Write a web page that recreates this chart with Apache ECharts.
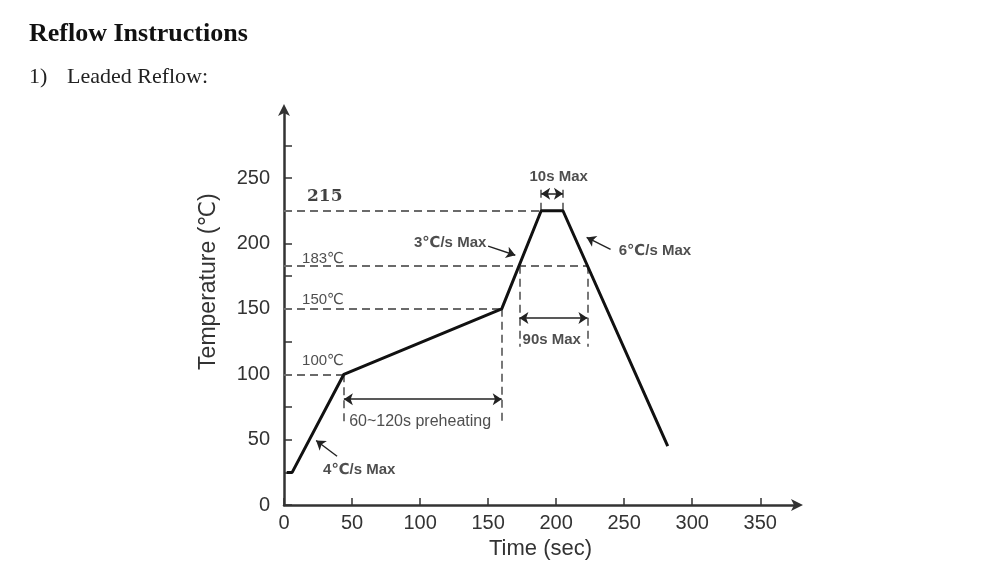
<!DOCTYPE html>
<html>
<head>
<meta charset="utf-8">
<script src="https://cdn.jsdelivr.net/npm/echarts@6/dist/echarts.min.js"></script>
<style>
  html, body { margin: 0; padding: 0; background: #fff; }
  #chart { width: 1000px; height: 565px; }
</style>
</head>
<body>
<div id="chart"></div>
<script>
// reflow profile (time in s, temperature in C)
const timeSec = [2, 6, 44, 160, 189, 205, 282];
const tempC = [25, 25, 100, 150, 225, 225, 45];

// axis ticks
const xTicks = [0, 50, 100, 150, 200, 250, 300, 350];
const yTicks = [0, 25, 50, 75, 100, 125, 150, 175, 200, 225, 250, 275];
const yLabels = [0, 50, 100, 150, 200, 250];

// horizontal dashed guides: level and where they stop
const hGuideLevel = [225, 183, 150, 100];
const hGuideEnd = [189, 223, 160, 44];

// vertical dashed guides
const vGuideX = [44, 160, 173, 223, 189, 205];
const vGuideFrom = [100, 150, 183, 183, 225, 225];
const vGuideTo = [61, 61, 121, 121, 243, 243];

// double arrows for durations
const spanStart = [44, 173, 189];
const spanEnd = [160, 223, 205];
const spanLevel = [81, 143, 238];

// pointer arrows for ramp rates
const pointerTail = [[150, 198], [240, 195.5], [39, 37.3]];
const pointerHead = [[170, 191], [222.4, 204.6], [23.6, 49.4]];

// annotation texts and their left anchor in data coords
const noteText = ['183℃', '150℃', '100℃', '3℃/s Max', '10s Max', '6℃/s Max', '90s Max', '60~120s preheating', '4℃/s Max'];
const noteX = [13.3, 13.3, 13.3, 95.5, 180.4, 246, 175.3, 47.9, 28.7];
const noteY = [187.9, 156.7, 110.3, 200.8, 251, 194.7, 126.3, 63.9, 26.6];
const peakLabel = '215';
const peakLabelAt = [16.9, 235.8];

const chart = echarts.init(document.getElementById('chart'));

const sans = '"Liberation Sans", Arial, "DejaVu Sans", sans-serif';
const serif = '"Liberation Serif", "Times New Roman", serif';

const guideStyle = { color: '#6a6a6a', width: 1.8, type: [8, 5], opacity: 1 };

const hGuides = hGuideLevel.map((y, i) => ({ coords: [[0, y], [hGuideEnd[i], y]] }));
const vGuides = vGuideX.map((x, i) => ({ coords: [[x, vGuideFrom[i]], [x, vGuideTo[i]]] }));
const spans = spanStart.map((x, i) => ({ coords: [[x, spanLevel[i]], [spanEnd[i], spanLevel[i]]] }));
const pointers = pointerTail.map((t, i) => ({ coords: [t, pointerHead[i]] }));

const notes = noteText.map((t, i) => ({
  name: t,
  value: [noteX[i], noteY[i]],
  label: {
    fontSize: t.indexOf('preheating') >= 0 ? 16 : 15,
    fontWeight: t.indexOf('Max') >= 0 ? 'bold' : 'normal'
  }
}));

const option = {
  animation: false,
  backgroundColor: '#fff',
  grid: { left: 284, top: 110, right: 203, bottom: 58 },
  xAxis: {
    type: 'value',
    min: 0,
    max: 377,
    name: 'Time (sec)',
    nameLocation: 'middle',
    nameGap: 30,
    nameTextStyle: { fontFamily: sans, fontSize: 22, color: '#333' },
    axisLine: {
      show: true,
      symbol: ['none', 'arrow'],
      symbolSize: [9, 12],
      symbolOffset: [0, 6],
      lineStyle: { color: '#333', width: 2.5 }
    },
    axisTick: { show: true, inside: true, length: 7, lineStyle: { color: '#333', width: 1.5 }, customValues: xTicks },
    axisLabel: { fontFamily: sans, fontSize: 20, color: '#333', margin: 8, customValues: xTicks },
    splitLine: { show: false }
  },
  yAxis: {
    type: 'value',
    min: 0,
    max: 302,
    name: 'Temperature (℃)',
    nameLocation: 'middle',
    nameGap: 64,
    nameTextStyle: { fontFamily: sans, fontSize: 23, color: '#333', padding: [0, 0, 0, 52] },
    axisLine: {
      show: true,
      symbol: ['none', 'arrow'],
      symbolSize: [9, 12],
      symbolOffset: [0, 6],
      lineStyle: { color: '#333', width: 2.5 }
    },
    axisTick: { show: true, inside: true, length: 8, lineStyle: { color: '#333', width: 1.5 }, customValues: yTicks },
    axisLabel: { fontFamily: sans, fontSize: 20, color: '#333', margin: 14, customValues: yLabels },
    splitLine: { show: false }
  },
  graphic: [
    { type: 'text', left: 29, top: 21, style: { text: 'Reflow Instructions', font: 'bold 26px ' + serif, fill: '#111' } },
    { type: 'text', left: 29, top: 66, style: { text: '1)', font: '22px ' + serif, fill: '#222' } },
    { type: 'text', left: 67, top: 66, style: { text: 'Leaded Reflow:', font: '22px ' + serif, fill: '#222' } }
  ],
  series: [
    {
      type: 'lines',
      coordinateSystem: 'cartesian2d',
      lineStyle: guideStyle,
      data: hGuides.concat(vGuides),
      z: 1
    },
    {
      type: 'lines',
      coordinateSystem: 'cartesian2d',
      symbol: ['arrow', 'arrow'],
      symbolSize: 9,
      lineStyle: { color: '#222', width: 1.6, opacity: 1 },
      data: spans,
      z: 3
    },
    {
      type: 'lines',
      coordinateSystem: 'cartesian2d',
      symbol: ['none', 'arrow'],
      symbolSize: 9,
      lineStyle: { color: '#222', width: 1.4, opacity: 1 },
      data: pointers,
      z: 3
    },
    {
      type: 'line',
      data: timeSec.map((t, i) => [t, tempC[i]]),
      showSymbol: false,
      lineStyle: { color: '#111', width: 3 },
      z: 4
    },
    {
      type: 'scatter',
      symbolSize: 0,
      data: notes,
      label: {
        show: true,
        position: 'right',
        distance: 0,
        formatter: p => p.name,
        fontFamily: sans,
        color: '#222'
      },
      z: 5
    },
    {
      type: 'scatter',
      symbolSize: 0,
      data: [{ name: peakLabel, value: peakLabelAt }],
      label: {
        show: true,
        position: 'right',
        distance: 0,
        formatter: p => p.name,
        fontFamily: '"DejaVu Serif", serif',
        fontWeight: 'bold',
        fontSize: 17,
        color: '#111'
      },
      z: 5
    }
  ]
};

chart.setOption(option);
</script>
</body>
</html>
